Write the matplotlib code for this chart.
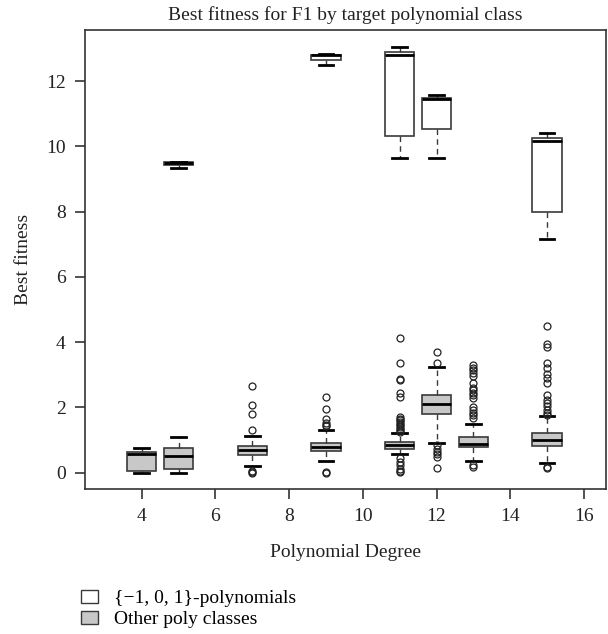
import matplotlib
matplotlib.use("Agg")
import matplotlib.pyplot as plt
from matplotlib.patches import Patch

plt.rcParams.update({
    "font.family": ["Liberation Serif", "DejaVu Serif"],
    "font.size": 13.5,
    "axes.linewidth": 1.2,
})

WHITE_FILL = "#ffffff"
GRAY_FILL = "#c8c8c8"
EDGE = "#3a3a3a"

# {-1,0,1}-polynomials
white_pos = [5, 9, 11, 12, 15]
white_lo = [9.34, 12.50, 9.66, 9.66, 7.17]
white_q1 = [9.42, 12.64, 10.33, 10.55, 7.98]
white_med = [9.48, 12.79, 12.81, 11.46, 10.18]
white_q3 = [9.51, 12.81, 12.91, 11.48, 10.27]
white_hi = [9.52, 12.82, 13.06, 11.58, 10.42]

# other poly classes
gray_pos = [4, 5, 7, 9, 11, 12, 13, 15]
gray_lo = [0.0, 0.0, 0.21, 0.35, 0.57, 0.91, 0.36, 0.30]
gray_q1 = [0.055, 0.10, 0.53, 0.68, 0.74, 1.79, 0.79, 0.83]
gray_med = [0.56, 0.51, 0.70, 0.79, 0.84, 2.12, 0.87, 1.00]
gray_q3 = [0.64, 0.76, 0.81, 0.90, 0.94, 2.38, 1.10, 1.22]
gray_hi = [0.76, 1.08, 1.12, 1.32, 1.22, 3.24, 1.49, 1.73]
gray_fliers = [
    [],
    [],
    [2.65, 2.07, 1.79, 1.30, 0.0, 0.03, 0.06],
    [2.33, 1.94, 1.66, 1.51, 1.46, 1.43, 0.0, 0.03],
    [4.12, 3.35, 2.87, 2.84, 2.43, 2.33, 1.72, 1.65, 1.60, 1.55, 1.50,
     1.45, 1.40, 1.35, 1.30, 1.26, 0.44, 0.33, 0.23, 0.12, 0.04, 0.01],
    [3.69, 3.37, 0.86, 0.74, 0.64, 0.56, 0.49, 0.13],
    [3.30, 3.22, 3.15, 3.05, 2.95, 2.74, 2.60, 2.52, 2.45, 2.37, 2.28,
     2.00, 1.92, 1.84, 1.76, 1.68, 0.23, 0.16],
    [4.50, 3.96, 3.86, 3.35, 3.20, 3.04, 2.89, 2.74, 2.38, 2.23, 2.13,
     2.03, 1.93, 1.83, 1.78, 0.18, 0.13],
]

x_ticks = [4, 6, 8, 10, 12, 14, 16]
y_ticks = [0, 2, 4, 6, 8, 10, 12]


def make_stats(lo, q1, med, q3, hi, fliers=None):
    out = []
    for i in range(len(med)):
        out.append({
            "whislo": lo[i], "q1": q1[i], "med": med[i],
            "q3": q3[i], "whishi": hi[i],
            "fliers": fliers[i] if fliers else [],
        })
    return out


def draw(ax, stats, pos, fill):
    ax.bxp(
        stats, positions=pos, widths=0.8, capwidths=0.4,
        patch_artist=True, manage_ticks=False,
        boxprops=dict(facecolor=fill, edgecolor=EDGE, linewidth=1.2),
        medianprops=dict(color="black", linewidth=2.0),
        whiskerprops=dict(color=EDGE, linewidth=1.0, linestyle=(0, (4, 3))),
        capprops=dict(color="black", linewidth=2.0),
        flierprops=dict(marker="o", markersize=5, markerfacecolor="none",
                        markeredgecolor="#222222", markeredgewidth=0.9),
    )


fig = plt.figure(figsize=(6.08, 6.34), dpi=100)
ax = fig.add_axes([0.1398, 0.2287, 0.8569, 0.724])

draw(ax, make_stats(white_lo, white_q1, white_med, white_q3, white_hi),
     white_pos, WHITE_FILL)
draw(ax, make_stats(gray_lo, gray_q1, gray_med, gray_q3, gray_hi, gray_fliers),
     gray_pos, GRAY_FILL)

ax.set_xlim(2.46, 16.6)
ax.set_ylim(-0.5, 13.57)
ax.set_xticks(x_ticks)
ax.set_yticks(y_ticks)
ax.tick_params(direction="out", length=7, width=1.2, pad=7, colors="#333333",
               labelcolor="#222222", labelsize=14)
for s in ax.spines.values():
    s.set_color("#333333")

ax.set_title("Best fitness for F1 by target polynomial class", fontsize=14,
             pad=7, color="#222222")
ax.set_xlabel("Polynomial Degree", fontsize=14, labelpad=13, color="#222222")
ax.set_ylabel("Best fitness", fontsize=14, labelpad=10, color="#222222")

handles = [
    Patch(facecolor=WHITE_FILL, edgecolor=EDGE, linewidth=1.0,
          label="{\u22121, 0, 1}-polynomials"),
    Patch(facecolor=GRAY_FILL, edgecolor=EDGE, linewidth=1.0,
          label="Other poly classes"),
]
fig.legend(handles=handles, loc="upper left", bbox_to_anchor=(0.118, 0.085),
           frameon=False, fontsize=14, handlelength=0.85, handleheight=0.65,
           handletextpad=0.8, labelspacing=0.2, borderpad=0)

fig.savefig("out.png", dpi=100)
